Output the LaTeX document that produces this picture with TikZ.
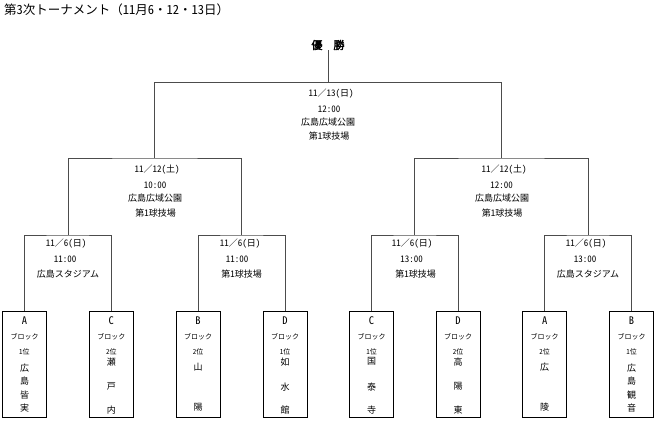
\documentclass[tikz,border=0pt]{standalone}
\usepackage{fontspec}
\setmainfont{Noto Sans CJK JP}
\newfontfamily\hw{Noto Sans CJK JP}[RawFeature=+hwid]
\newfontfamily\bfjp{Noto Sans CJK JP}[AutoFakeBold=2.5]
\newcommand\mkteam[5]{%
  \node[teambox] (#1) at (#2,311) {};
  \node[letter] (#1L) at (#2,320.7) {{\hw #3}};
  \node[small] (#1B) at (#2,336.7) {ブロック};
  \node[small] (#1R) at (#2,352) {{\hw #4}位};
  \foreach \yy/\cc [count=\k] in {#5} {\node[nm] (#1N\k) at (#2,\yy) {\cc};}%
}
\begin{document}
\begin{tikzpicture}[x=1pt,y=-1pt,
  line/.style={draw=black!70, line width=0.8pt},
  teambox/.style={draw=black, line width=1pt, minimum width=44pt, minimum height=106pt, anchor=north, inner sep=0pt},
  info/.style={font=\fontsize{9}{10}\selectfont, inner sep=0pt},
  small/.style={font=\fontsize{7}{8}\selectfont, inner sep=0pt},
  letter/.style={font=\fontsize{10.5}{11}\selectfont, inner sep=0pt},
  nm/.style={font=\fontsize{9}{10}\selectfont, inner sep=0pt}]
\useasboundingbox (0,0) rectangle (661,426);

\node[anchor=west, inner sep=0pt, font=\fontsize{12.5}{14}\selectfont] (title) at (4,10) {第{\hw 3}次トーナメント（{\hw 11}月{\hw 6}・{\hw 12}・{\hw 13}日）};
\node[inner sep=0pt, font=\bfjp\bfseries\fontsize{11}{12}\selectfont] (champ) at (328,45) {優　勝};

% bracket tops
\coordinate (F) at (328,82.5);
\coordinate (S1) at (154.7,158);
\coordinate (S2) at (501.4,158);
\coordinate (Q1) at (67.9,235);
\coordinate (Q2) at (241.5,235);
\coordinate (Q3) at (414.8,235);
\coordinate (Q4) at (588.1,235);

% teams
\mkteam{b1}{24.5}{A}{1}{368/広,381/島,395/皆,408/実}
\mkteam{b2}{111.3}{C}{2}{361.7/瀬,386.7/戸,410/内}
\mkteam{b3}{198}{B}{2}{367/山,407/陽}
\mkteam{b4}{285}{D}{1}{361.7/如,386.7/水,410/館}
\mkteam{b5}{371.5}{C}{1}{361.7/国,386.7/泰,410/寺}
\mkteam{b6}{458}{D}{2}{361.7/高,386.7/陽,410/東}
\mkteam{b7}{544.7}{A}{2}{367/広,407/陵}
\mkteam{b8}{631.5}{B}{1}{368/広,381/島,395/観,408/音}

% connectors
\draw[line] (champ.south) -- (F);
\draw[line] (S1) |- (F) -| (S2);
\draw[line] (Q1) |- (S1) -| (Q2);
\draw[line] (Q3) |- (S2) -| (Q4);
\draw[line] (b1.north) |- (Q1) -| (b2.north);
\draw[line] (b3.north) |- (Q2) -| (b4.north);
\draw[line] (b5.north) |- (Q3) -| (b6.north);
\draw[line] (b7.north) |- (Q4) -| (b8.north);

% final info
\node[info] (f1) at (331,94) {{\hw 11}／{\hw 13(}日{\hw )}};
\node[info] (f2) at (329,109) {{\hw 12:00}};
\node[info] (f3) at (328,121.7) {広島広域公園};
\node[info] (f4) at (329,136) {第{\hw 1}球技場};
% semi left
\node[info] (s1a) at (157,170) {{\hw 11}／{\hw 12(}土{\hw )}};
\node[info] (s1b) at (155,185) {{\hw 10:00}};
\node[info] (s1c) at (155,197.7) {広島広域公園};
\node[info] (s1d) at (155.5,212.7) {第{\hw 1}球技場};
% semi right
\node[info] (s2a) at (504,170) {{\hw 11}／{\hw 12(}土{\hw )}};
\node[info] (s2b) at (501.5,185) {{\hw 12:00}};
\node[info] (s2c) at (502,197.7) {広島広域公園};
\node[info] (s2d) at (502,212.7) {第{\hw 1}球技場};
% quarter
\node[info] (q1a) at (66,244) {{\hw 11}／{\hw 6(}日{\hw )}};
\node[info] (q1b) at (65,259) {{\hw 11:00}};
\node[info] (q1c) at (68,274) {広島スタジアム};
\node[info] (q2a) at (240,244) {{\hw 11}／{\hw 6(}日{\hw )}};
\node[info] (q2b) at (237,259) {{\hw 11:00}};
\node[info] (q2c) at (241.5,274) {第{\hw 1}球技場};
\node[info] (q3a) at (412,244) {{\hw 11}／{\hw 6(}日{\hw )}};
\node[info] (q3b) at (411.5,259) {{\hw 13:00}};
\node[info] (q3c) at (415.5,274) {第{\hw 1}球技場};
\node[info] (q4a) at (586,244) {{\hw 11}／{\hw 6(}日{\hw )}};
\node[info] (q4b) at (585,259) {{\hw 13:00}};
\node[info] (q4c) at (588,274) {広島スタジアム};
\end{tikzpicture}
\end{document}
